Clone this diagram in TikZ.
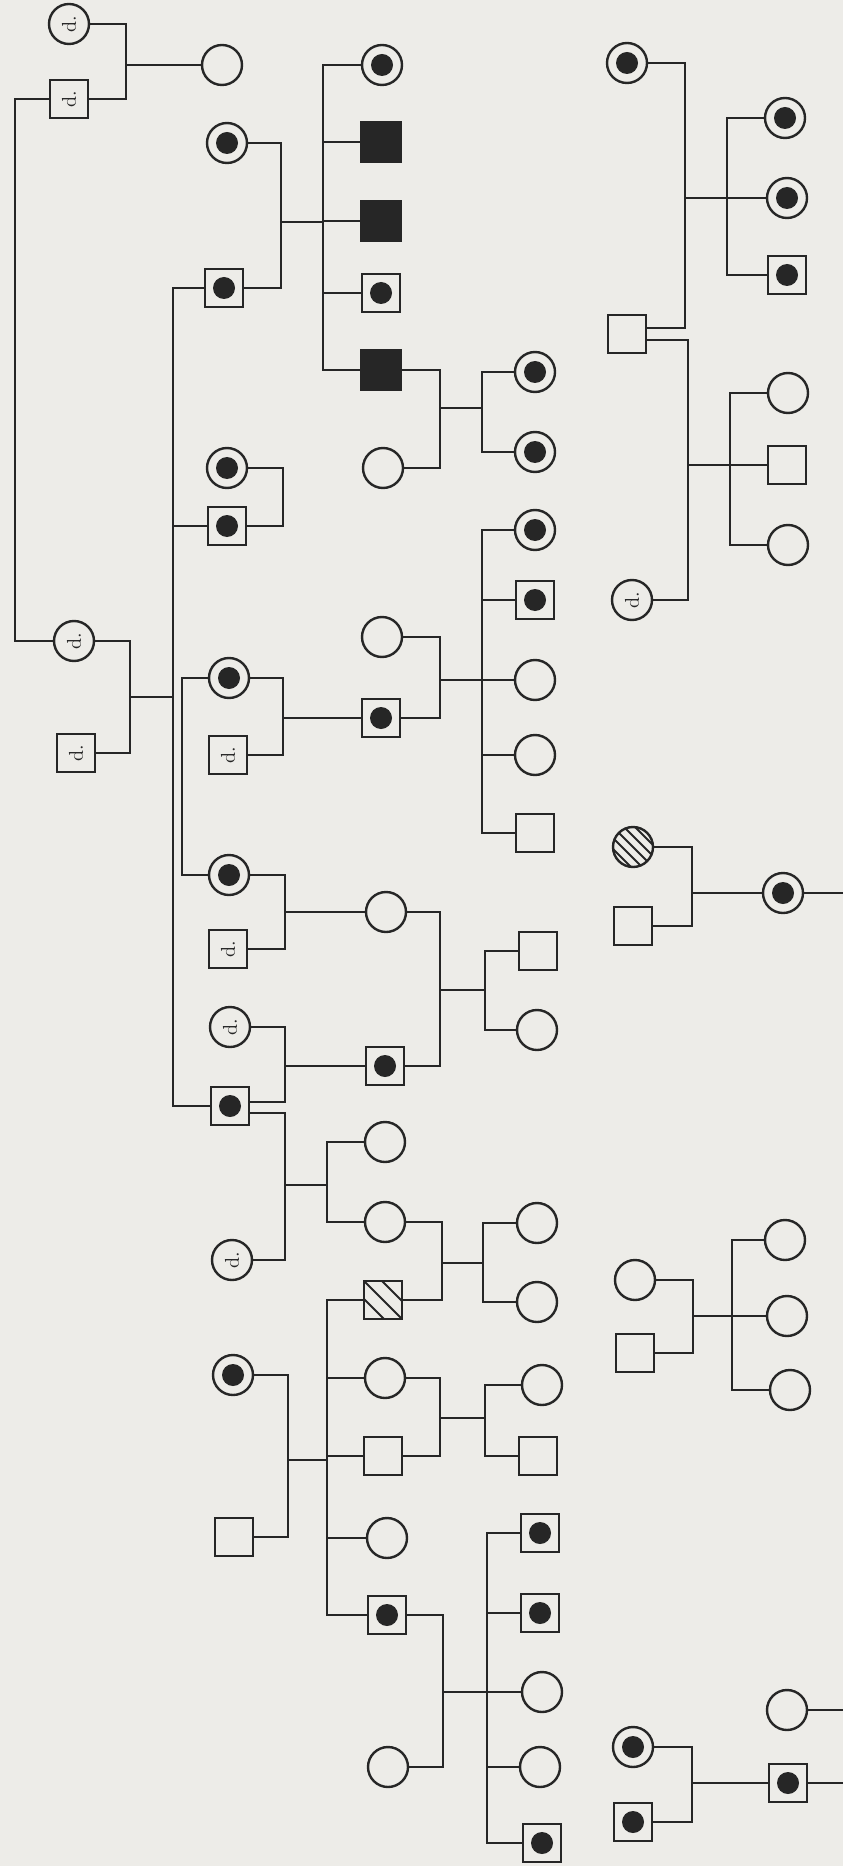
\documentclass[tikz,border=0pt]{standalone}
\usepackage{graphicx}
\usepackage{tikz}
\usetikzlibrary{calc}
\definecolor{ink}{HTML}{262626}
\definecolor{paper}{HTML}{EDECE8}
\newcommand{\deceased}{\rotatebox{90}{d.}}

\begin{document}
\begin{tikzpicture}[
        x=0.5pt, y=-0.5pt, color=ink, line width=1.2pt,
        fem/.style={circle, draw, minimum size=20pt, inner sep=0pt},
        mal/.style={rectangle, draw, minimum size=19pt, inner sep=0pt},
        carrier/.style={path picture={\fill (path picture bounding box.center) circle (5.5pt);}},
        affected/.style={fill=ink, minimum size=20pt},
        hatchM/.style={path picture={\foreach \k in {-1,0,1}
            \draw[line width=1pt] ($(path picture bounding box.center)+(\k*9pt-14pt,14pt)$) -- ++(28pt,-28pt);}},
        hatchF/.style={path picture={\foreach \k in {-2,...,2}
            \draw[line width=1pt] ($(path picture bounding box.center)+(\k*5.5pt-14pt,14pt)$) -- ++(28pt,-28pt);}}
    ]
        \fill[paper] (0,0) rectangle (843,1866);

        % left column
        \node[fem] (a1) at (69,24) {\deceased};
        \node[mal] (a2) at (69,99) {\deceased};
        \node[fem] (a3) at (222,65) {};
        \node[fem] (b1) at (74,641) {\deceased};
        \node[mal] (b2) at (76,753) {\deceased};
        \node[fem, carrier] (c0) at (227,143) {};
        \node[mal, carrier] (c1) at (224,288) {};
        \node[fem, carrier] (c2) at (227,468) {};
        \node[mal, carrier] (c3) at (227,526) {};
        \node[fem, carrier] (d1) at (229,678) {};
        \node[mal] (d2) at (228,755) {\deceased};
        \node[fem, carrier] (d4) at (229,875) {};
        \node[mal] (d5) at (228,949) {\deceased};
        \node[fem] (d6) at (230,1027) {\deceased};
        \node[mal, carrier] (d7) at (230,1106) {};
        \node[fem] (d8) at (232,1260) {\deceased};
        \node[fem, carrier] (r1) at (233,1375) {};
        \node[mal] (r2) at (234,1537) {};

        % second column
        \node[fem, carrier] (e1) at (382,65) {};
        \node[mal, affected] (e2) at (381,142) {};
        \node[mal, affected] (e3) at (381,221) {};
        \node[mal, carrier] (e4) at (381,293) {};
        \node[mal, affected] (e5) at (381,370) {};
        \node[fem] (e6) at (383,468) {};
        \node[fem] (g1) at (382,637) {};
        \node[mal, carrier] (g2) at (381,718) {};
        \node[fem] (m1) at (386,912) {};
        \node[mal, carrier] (m2) at (385,1066) {};
        \node[fem] (p1) at (385,1142) {};
        \node[fem] (p2) at (385,1222) {};
        \node[mal, hatchM] (p3) at (383,1300) {};
        \node[fem] (r3) at (385,1378) {};
        \node[mal] (r4) at (383,1456) {};
        \node[fem] (r5) at (387,1538) {};
        \node[mal, carrier] (r6) at (387,1615) {};
        \node[fem] (r7) at (388,1767) {};

        % third column
        \node[fem, carrier] (f1) at (535,372) {};
        \node[fem, carrier] (f2) at (535,452) {};
        \node[fem, carrier] (h1) at (535,530) {};
        \node[mal, carrier] (h2) at (535,600) {};
        \node[fem] (h3) at (535,680) {};
        \node[fem] (h4) at (535,755) {};
        \node[mal] (h5) at (535,833) {};
        \node[mal] (n1) at (538,951) {};
        \node[fem] (n2) at (537,1030) {};
        \node[fem] (q1) at (537,1223) {};
        \node[fem] (q2) at (537,1302) {};
        \node[fem] (s1) at (542,1385) {};
        \node[mal] (s2) at (538,1456) {};
        \node[mal, carrier] (t1) at (540,1533) {};
        \node[mal, carrier] (t2) at (540,1613) {};
        \node[fem] (t3) at (542,1692) {};
        \node[fem] (t4) at (540,1767) {};
        \node[mal, carrier] (t5) at (542,1843) {};

        % fourth column
        \node[fem, carrier] (j1) at (627,63) {};
        \node[mal] (j2) at (627,334) {};
        \node[fem] (j3) at (632,600) {\deceased};
        \node[fem, hatchF] (u1) at (633,847) {};
        \node[mal] (u2) at (633,926) {};
        \node[fem] (v1) at (635,1280) {};
        \node[mal] (v2) at (635,1353) {};
        \node[fem, carrier] (x1) at (633,1747) {};
        \node[mal, carrier] (x2) at (633,1822) {};

        % right column
        \node[fem, carrier] (k1) at (785,118) {};
        \node[fem, carrier] (k2) at (787,198) {};
        \node[mal, carrier] (k3) at (787,275) {};
        \node[fem] (l1) at (788,393) {};
        \node[mal] (l2) at (787,465) {};
        \node[fem] (l3) at (788,545) {};
        \node[fem, carrier] (u3) at (783,893) {};
        \node[fem] (w1) at (785,1240) {};
        \node[fem] (w2) at (787,1316) {};
        \node[fem] (w3) at (790,1390) {};
        \node[fem] (x4) at (787,1710) {};
        \node[mal, carrier] (x3) at (788,1783) {};

        % junctions
        \coordinate (mA) at (126,65);
        \coordinate (sA) at (15,370);
        \coordinate (mB) at (130,697);
        \coordinate (sB) at (173,697);
        \coordinate (mC) at (281,222);
        \coordinate (sC) at (323,222);
        \coordinate (mD) at (283,497);
        \coordinate (mE) at (440,408);
        \coordinate (sE) at (482,408);
        \coordinate (sD) at (182,776);
        \coordinate (mF) at (283,718);
        \coordinate (mG) at (440,680);
        \coordinate (sG) at (482,680);
        \coordinate (mJ) at (685,198);
        \coordinate (sJ) at (727,198);
        \coordinate (mK) at (688,465);
        \coordinate (sK) at (730,465);
        \coordinate (mM) at (285,912);
        \coordinate (mN) at (285,1066);
        \coordinate (mP) at (285,1185);
        \coordinate (sP) at (327,1185);
        \coordinate (mQ) at (440,990);
        \coordinate (sQ) at (485,990);
        \coordinate (mR) at (442,1263);
        \coordinate (sR) at (483,1263);
        \coordinate (mS) at (288,1460);
        \coordinate (sS) at (327,1460);
        \coordinate (mT) at (440,1418);
        \coordinate (sT) at (485,1418);
        \coordinate (mU) at (443,1692);
        \coordinate (sU) at (487,1692);
        \coordinate (mV) at (692,893);
        \coordinate (mW) at (693,1316);
        \coordinate (sW) at (732,1316);
        \coordinate (mX) at (692,1783);
        \coordinate (eU) at (843,893);
        \coordinate (eX3) at (843,1783);
        \coordinate (eX4) at (843,1710);

        % matings and sibships
        \draw (a1.east) -| (mA) |- (a2.east);
        \draw (mA) -- (a3.west);
        \draw (a2.west) -| (sA) |- (b1.west);

        \draw (b1.east) -| (mB) |- (b2.east);
        \draw (mB) -- (sB);
        \draw (c1.west) -| (sB) |- (d7.west);
        \draw (c3.west) -- (c3.west -| sB);

        \draw (c0.east) -| (mC) |- (c1.east);
        \draw (mC) -- (sC);
        \draw (e1.west) -| (sC) |- (e5.west);
        \foreach \n in {e2,e3,e4} \draw (\n.west) -- (\n.west -| sC);

        \draw (c2.east) -| (mD) |- (c3.east);

        \draw (e5.east) -| (mE) |- (e6.east);
        \draw (mE) -- (sE);
        \draw (f1.west) -| (sE) |- (f2.west);

        \draw (d1.west) -| (sD) |- (d4.west);
        \draw (d1.east) -| (mF) |- (d2.east);
        \draw (mF) -- (g2.west);

        \draw (g1.east) -| (mG) |- (g2.east);
        \draw (mG) -- (h3.west);
        \draw (h1.west) -| (sG) |- (h5.west);
        \foreach \n in {h2,h4} \draw (\n.west) -- (\n.west -| sG);

        \draw (j1.east) -| (mJ) |- ([yshift=3pt]j2.east);
        \draw (mJ) -- (k2.west);
        \draw (k1.west) -| (sJ) |- (k3.west);
        \draw ([yshift=-3pt]j2.east) -| (mK) |- (j3.east);
        \draw (mK) -- (l2.west);
        \draw (l1.west) -| (sK) |- (l3.west);

        \draw (d4.east) -| (mM) |- (d5.east);
        \draw (mM) -- (m1.west);
        \draw (d6.east) -| (mN) |- ([yshift=2pt]d7.east);
        \draw (mN) -- (m2.west);
        \draw ([yshift=-3.5pt]d7.east) -| (mP) |- (d8.east);
        \draw (mP) -- (sP);
        \draw (p1.west) -| (sP) |- (p2.west);

        \draw (m1.east) -| (mQ) |- (m2.east);
        \draw (mQ) -- (sQ);
        \draw (n1.west) -| (sQ) |- (n2.west);

        \draw (p2.east) -| (mR) |- (p3.east);
        \draw (mR) -- (sR);
        \draw (q1.west) -| (sR) |- (q2.west);

        \draw (r1.east) -| (mS) |- (r2.east);
        \draw (mS) -- (sS);
        \draw (p3.west) -| (sS) |- (r6.west);
        \foreach \n in {r3,r4,r5} \draw (\n.west) -- (\n.west -| sS);

        \draw (r3.east) -| (mT) |- (r4.east);
        \draw (mT) -- (sT);
        \draw (s1.west) -| (sT) |- (s2.west);

        \draw (r6.east) -| (mU) |- (r7.east);
        \draw (mU) -- (t3.west);
        \draw (t1.west) -| (sU) |- (t5.west);
        \foreach \n in {t2,t4} \draw (\n.west) -- (\n.west -| sU);

        \draw (u1.east) -| (mV) |- (u2.east);
        \draw (mV) -- (u3.west);
        \draw (u3.east) -- (eU);

        \draw (v1.east) -| (mW) |- (v2.east);
        \draw (mW) -- (w2.west);
        \draw (w1.west) -| (sW) |- (w3.west);

        \draw (x1.east) -| (mX) |- (x2.east);
        \draw (mX) -- (x3.west);
        \draw (x3.east) -- (eX3);
        \draw (x4.east) -- (eX4);
    \end{tikzpicture}
\end{document}
